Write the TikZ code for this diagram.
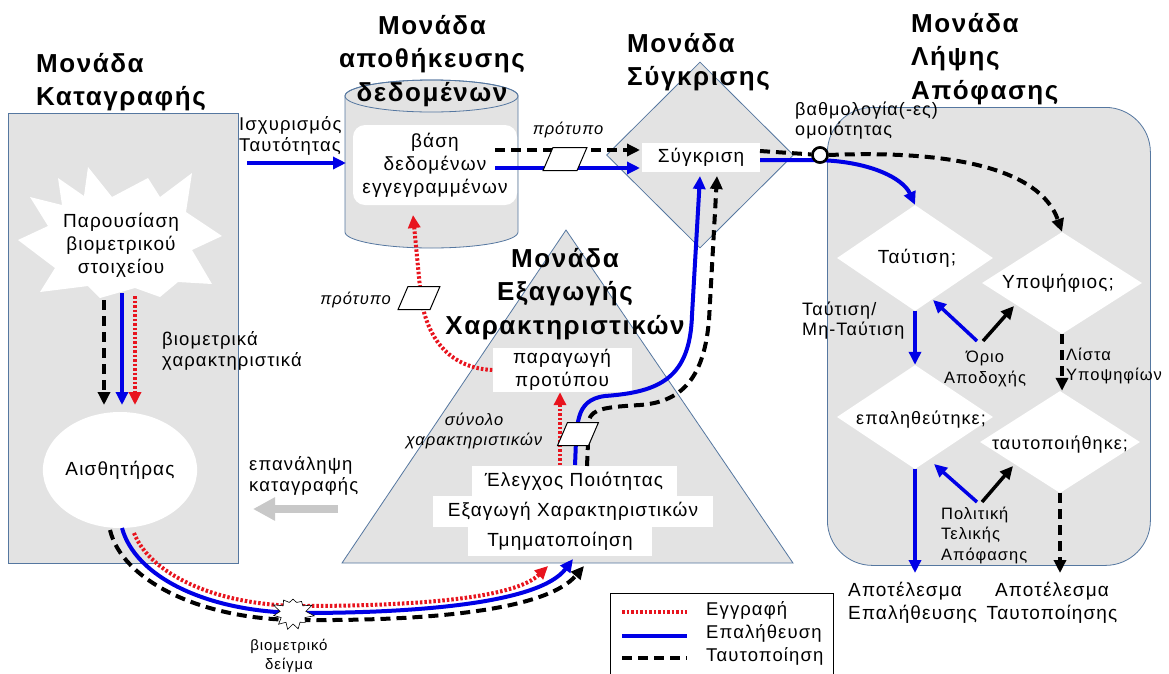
\documentclass[tikz,border=0pt]{standalone}
\usepackage{fontspec}
\setmainfont{Liberation Sans}[LetterSpace=6]
\usetikzlibrary{arrows.meta,shapes.geometric,shapes.symbols}
\definecolor{boxgray}{HTML}{E3E3E3}
\definecolor{edgeblue}{HTML}{5577A0}
\definecolor{vblue}{HTML}{0000E6}
\definecolor{ered}{HTML}{E8141E}
\definecolor{arrgray}{HTML}{C8C8C8}
\newcommand{\fbody}{\fontsize{19}{23}\selectfont}
\newcommand{\fdia}{\fontsize{18}{21}\selectfont}
\newcommand{\flab}{\fontsize{16.5}{20.5}\selectfont}
\newcommand{\flabL}{\fontsize{18.5}{20.5}\selectfont}
\newcommand{\flabS}{\fontsize{15}{19}\selectfont}
\newcommand{\ftitle}{\fontsize{26}{33.5}\selectfont\bfseries}
\begin{document}
\begin{tikzpicture}[x=1pt,y=-1pt,
  unitbox/.style={draw=edgeblue, fill=boxgray, line width=0.8pt},
  whitebox/.style={fill=white, inner sep=0pt},
  title/.style={font=\ftitle, inner sep=0pt},
  lbl/.style={font=\flab, inner sep=0pt},
  lblL/.style={font=\flabL, inner sep=0pt},
  ilbl/.style={font=\flab\itshape, inner sep=0pt},
  tip/.style={-{Triangle[length=13pt,width=12pt]}},
  blueln/.style={vblue, line width=4pt},
  blackln/.style={black, line width=4pt, dash pattern=on 10pt off 6pt},
  redln/.style={ered, line width=4pt, dash pattern=on 2.5pt off 2pt},
  para/.style={rectangle, draw=black, fill=white, line width=1pt, inner sep=0pt, minimum height=23pt, transform shape}
]
\useasboundingbox (0,0) rectangle (1169,673);
\fill[white] (0,0) rectangle (1169,673);

% ---------- unit containers ----------
\node[unitbox, minimum width=230pt, minimum height=450pt, anchor=north west, inner sep=0pt] (capbox) at (8,113) {};
\node[unitbox, rounded corners=45pt, minimum width=323pt, minimum height=458pt, anchor=north west, inner sep=0pt] (decbox) at (827,107) {};
\draw[unitbox] (345,96) -- (345,232) arc[start angle=180,end angle=360,x radius=86.5pt,y radius=16pt]
   -- (518,96) arc[start angle=0,end angle=180,x radius=86.5pt,y radius=16pt] -- cycle;
\draw[draw=edgeblue, line width=0.8pt] (431.5,96) ellipse [x radius=86.5pt, y radius=16pt];
\node[diamond, unitbox, minimum width=187pt, minimum height=186pt, inner sep=0pt] (cmpd) at (700,155) {};
\coordinate (tA) at (566,230);
\coordinate (tB) at (342,563);
\coordinate (tC) at (793,563);
\draw[unitbox] (tA) -- (tB) -- (tC) -- cycle;

% ---------- titles ----------
\node[title, align=left, anchor=west] (t1) at (36,82) {Μονάδα\\Καταγραφής};
\node[title, align=center] (t2) at (432,61) {Μονάδα\\αποθήκευσης\\δεδομένων};
\node[title, align=left, anchor=west] (t3) at (627,62) {Μονάδα\\Σύγκρισης};
\node[title, align=left, anchor=west] (t4) at (911,59) {Μονάδα\\Λήψης\\Απόφασης};
\node[title, align=center] (t5) at (565,294) {Μονάδα\\Εξαγωγής\\Χαρακτηριστικών};

% ---------- capture unit ----------
\fill[white] (88,167) -- (112,197) -- (148,178) -- (160,197) -- (192,173) -- (186,212) -- (222,236)
  -- (192,250) -- (212,284) -- (178,282) -- (160,297) -- (135,288) -- (100,298) -- (88,286)
  -- (40,292) -- (55,268) -- (18,240) -- (48,226) -- (30,197) -- (62,205) -- (58,178) -- (84,196) -- cycle;
\node[font=\fbody, align=center, inner sep=0pt] (pres) at (121,245) {Παρουσίαση\\βιομετρικού\\στοιχείου};
\node[ellipse, fill=white, minimum width=150pt, minimum height=116pt, font=\fbody, inner sep=0pt] (sens) at (120,470) {Αισθητήρας};
\node[lblL, align=left, anchor=west] (bchar) at (162,351) {βιομετρικά\\χαρακτηριστικά};
\coordinate (kA) at (104,300); \coordinate (kB) at (104,405);
\coordinate (bA) at (122,293); \coordinate (bB) at (122,405);
\coordinate (rA) at (135,296); \coordinate (rB) at (135,405);
\draw[blackln, tip] (kA) -- (kB);
\draw[blueln, tip] (bA) -- (bB);
\draw[redln, tip] (rA) -- (rB);

% repeat capture
\node[lblL, align=left, anchor=west] (rep) at (249,476) {επανάληψη\\καταγραφής};
\coordinate (g1) at (338,509); \coordinate (g2) at (253,509);
\draw[arrgray, line width=8pt, -{Triangle[length=22pt,width=22pt]}] (g1) -- (g2);

% identity claim
\node[lblL, align=left, anchor=west] (claim) at (239,136) {Ισχυρισμός\\Ταυτότητας};
\coordinate (c1) at (247,163); \coordinate (c2) at (346,163);
\draw[blueln, tip] (c1) -- (c2);

% ---------- storage ----------
\node[whitebox, rounded corners=12pt, minimum width=164pt, minimum height=80pt, font=\fbody, align=center] (dbl) at (435,165) {βάση\\δεδομένων\\εγγεγραμμένων};

% ---------- comparison ----------
\node[whitebox, minimum width=118pt, minimum height=29pt, font=\fbody] (cmpl) at (701,157) {Σύγκριση};
\node[ilbl] (tpllab) at (568,130) {πρότυπο};
\coordinate (dbK) at (495,150); \coordinate (cmK) at (640,150);
\coordinate (dbB) at (495,168); \coordinate (cmB) at (640,168);
\draw[blackln, tip] (dbK) -- (cmK);
\draw[blueln, tip] (dbB) -- (cmB);
\begin{scope}[shift={(565,159)}, xslant=0.43]
  \node[para, minimum width=34pt] (tpl1) at (0,0) {};
\end{scope}

% ---------- feature extraction ----------
\node[whitebox, minimum width=139pt, minimum height=44pt, font=\fbody, align=center] (pp) at (562,370) {παραγωγή\\προτύπου};
\node[whitebox, minimum width=205pt, minimum height=31pt, font=\fbody] (ql) at (574,481) {Έλεγχος Ποιότητας};
\node[whitebox, minimum width=280pt, minimum height=31pt, font=\fbody] (fe) at (573,511) {Εξαγωγή Χαρακτηριστικών};
\node[whitebox, minimum width=184pt, minimum height=30pt, font=\fbody] (sg) at (560,541) {Τμηματοποίηση};

% red: template generation -> database
\coordinate (dbIn) at (413,215);
\draw[redln, tip] (pp.west) .. controls (452,368) and (428,342) .. (421,298) -- (dbIn);
\begin{scope}[shift={(419,298)}, xslant=0.43]
  \node[para, minimum width=32pt] (tpl2) at (0,0) {};
\end{scope}
\node[ilbl, anchor=east] (tpllab2) at (391,300) {πρότυπο};

% red up arrow
\coordinate (r1) at (560,465);
\draw[redln, tip] (r1) -- (pp.south -| r1);

% blue / black to comparison
\coordinate (qB) at (575,465);
\coordinate (qK) at (587,466);
\coordinate (cB) at (700,176);
\coordinate (cK) at (717,176);
\draw[blueln, tip] (qB) .. controls (577,425) and (574,400) .. (605,396)
   .. controls (660,392) and (690,378) .. (692,315) -- (cB);
\draw[blackln, tip] (qK) -- (589,420) .. controls (592,409) and (605,407) .. (640,405)
   .. controls (682,402) and (704,378) .. (709,320) -- (cK);
\begin{scope}[shift={(578,434)}, xslant=0.43]
  \node[para, minimum width=31pt] (tpl3) at (0,0) {};
\end{scope}
\node[ilbl, align=center] (fsetlab) at (474,431) {σύνολο\\χαρακτηριστικών};

% ---------- sample path ----------
\coordinate (sK) at (110,530); \coordinate (sB) at (122,528); \coordinate (sR) at (134,533);
\coordinate (eK) at (584,566); \coordinate (eB) at (573,559); \coordinate (eR) at (548,566);
\draw[blackln, tip] (sK) .. controls (122,580) and (200,620) .. (300,620) .. controls (420,621) and (545,612) .. (eK);
\draw[blueln, tip] (sB) .. controls (135,576) and (205,612) .. (300,613) .. controls (420,613) and (540,603) .. (eB);
\draw[redln, tip] (sR) .. controls (150,574) and (215,605) .. (300,606) .. controls (420,606) and (515,598) .. (eR);
\node[starburst, fill=white, draw=black, line width=0.6pt, minimum width=44pt, minimum height=40pt,
      starburst points=11, starburst point height=9pt, random starburst=3] (samp) at (293,613) {};
\node[font=\flabS, align=center, inner sep=0pt] (samplab) at (289,656) {βιομετρικό\\δείγμα};

% ---------- decision ----------
\node[diamond, fill=white, minimum width=156pt, minimum height=106pt, inner sep=0pt] (dmatch) at (915,258) {};
\node[diamond, fill=white, minimum width=160pt, minimum height=102pt, inner sep=0pt] (dcand) at (1062,283) {};
\node[diamond, fill=white, minimum width=156pt, minimum height=104pt, inner sep=0pt] (dver) at (915,417) {};
\node[diamond, fill=white, minimum width=160pt, minimum height=102pt, inner sep=0pt] (did) at (1060,442) {};
\node[font=\fbody, inner sep=0pt] (dmatcht) at (917,258) {Ταύτιση;};
\node[font=\fbody, inner sep=0pt] (dcandt) at (1058,283) {Υποψήφιος;};
\node[font=\fdia, inner sep=0pt] (dvert) at (921,420) {επαληθεύτηκε;};
\node[font=\fdia, inner sep=0pt] (didt) at (1060,445) {ταυτοποιήθηκε;};

\node[font=\fontsize{18}{20}\selectfont, inner sep=0pt, align=left, anchor=west] (scorelab) at (795,121) {βαθμολογία(-ες)\\ομοιότητας};
\coordinate (cmpOutK) at (760,151);
\coordinate (cmpOutB) at (760,160);
\node[circle, draw=black, fill=white, line width=2.5pt, minimum size=15pt, inner sep=0pt] (circ) at (820,155) {};
\draw[blackln] (cmpOutK) -- (circ);
\draw[blueln, tip] (cmpOutB) -- (812,160) .. controls (868,160) and (903,178) .. (dmatch.north);
\draw[blackln, tip] (circ.east) .. controls (950,150) and (1040,168) .. (dcand.north);
\node[circle, draw=black, fill=white, line width=2.5pt, minimum size=15pt, inner sep=0pt] at (circ) {};

\node[font=\fontsize{18}{20}\selectfont, inner sep=0pt, align=left, anchor=west] (mmlab) at (802,321) {Ταύτιση/\\Μη-Ταύτιση};
\draw[blueln, tip] (dmatch.south) -- (dver.north);
\node[lbl, align=center] (thr) at (985,369) {Όριο\\Αποδοχής};
\coordinate (th1) at (977,341); \coordinate (th2) at (933,300);
\coordinate (th3) at (983,341); \coordinate (th4) at (1014,306);
\draw[blueln, line width=3.5pt, tip] (th1) -- (th2);
\draw[black, line width=3.5pt, tip] (th3) -- (th4);
\node[lbl, align=left, anchor=west] (clist) at (1066,366) {Λίστα\\Υποψηφίων};
\draw[blackln, tip] (dcand.south) -- (dcand.south |- did.north);

\coordinate (resV) at (915,573);
\coordinate (resI) at (1060,573);
\draw[blueln, tip] (dver.south) -- (resV);
\draw[blackln, tip] (did.south) -- (resI);
\node[lbl, align=left, anchor=west] (pol) at (941,535) {Πολιτική\\Τελικής\\Απόφασης};
\coordinate (p1) at (977,502); \coordinate (p2) at (934,464);
\coordinate (p3) at (982,502); \coordinate (p4) at (1013,466);
\draw[blueln, line width=3.5pt, tip] (p1) -- (p2);
\draw[black, line width=3.5pt, tip] (p3) -- (p4);

\node[font=\fbody, align=left, anchor=west, inner sep=0pt] (outV) at (848,603) {Αποτέλεσμα\\Επαλήθευσης};
\node[font=\fbody, align=center, inner sep=0pt] (outI) at (1052,603) {Αποτέλεσμα\\Ταυτοποίησης};

% ---------- legend ----------
\node[draw=black, line width=0.8pt, fill=white, minimum width=223pt, minimum height=90pt, anchor=north west, inner sep=0pt] (leg) at (610,593) {};
\coordinate (lr1) at (622,612); \coordinate (lr2) at (687,612);
\coordinate (lb1) at (622,636); \coordinate (lb2) at (687,636);
\coordinate (lk1) at (622,658); \coordinate (lk2) at (687,658);
\draw[redln] (lr1) -- (lr2);
\draw[blueln] (lb1) -- (lb2);
\draw[blackln] (lk1) -- (lk2);
\node[lblL, anchor=west] (legr) at (706,610) {Εγγραφή};
\node[lblL, anchor=west] (legb) at (706,633) {Επαλήθευση};
\node[lblL, anchor=west] (legk) at (706,656) {Ταυτοποίηση};
\end{tikzpicture}
\end{document}
